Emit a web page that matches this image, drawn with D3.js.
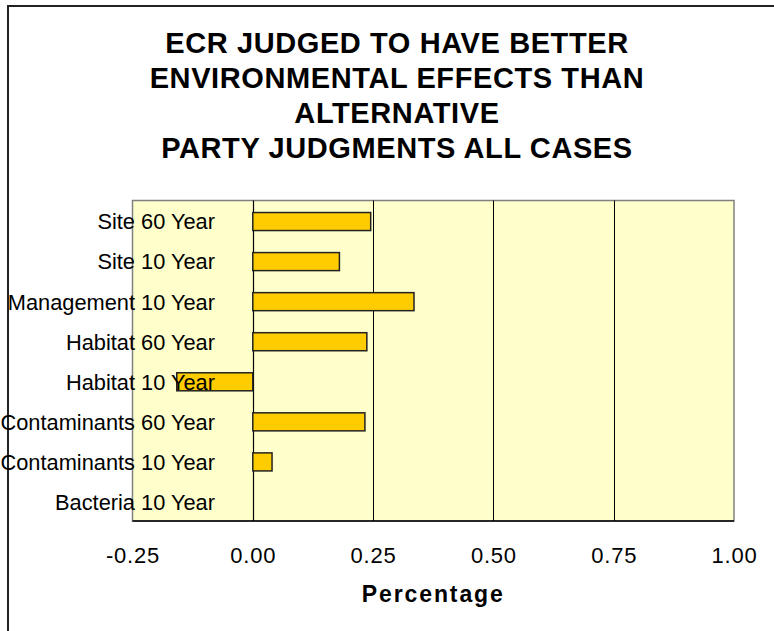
<!DOCTYPE html>
<html><head><meta charset="utf-8">
<script src="https://cdn.jsdelivr.net/npm/d3@7"></script>
<style>body{margin:0;background:#fff;} svg{display:block;font-family:Arial,"Liberation Sans",sans-serif;}</style>
</head><body>
<script>
const titleLines = ["ECR JUDGED TO HAVE BETTER","ENVIRONMENTAL EFFECTS THAN","ALTERNATIVE","PARTY JUDGMENTS ALL CASES"];
const categories = ["Site 60 Year","Site 10 Year","Management 10 Year","Habitat 60 Year","Habitat 10 Year","Contaminants 60 Year","Contaminants 10 Year","Bacteria 10 Year"];
const values = [0.245, 0.18, 0.335, 0.237, -0.158, 0.233, 0.04, 0];
const ticks = [-0.25, 0, 0.25, 0.5, 0.75, 1.0];
const xLabel = "Percentage";

const W = 774, H = 631;
const svg = d3.select("body").append("svg").attr("width", W).attr("height", H);

// outer chart border
svg.append("path").attr("d", `M8,${H+5} L8,6 L${W+5},6`).attr("fill","none").attr("stroke","#222").attr("stroke-width",2);

const plot = {l:132.5, r:734, t:200.5, b:521};
const x = d3.scaleLinear().domain([-0.25, 1.0]).range([plot.l, plot.r]);
const y = d3.scaleBand().domain(categories).range([plot.t, plot.b]).paddingInner(0.55).paddingOuter(0.275);

// plot background
svg.append("rect").attr("x",plot.l).attr("y",plot.t).attr("width",plot.r-plot.l).attr("height",plot.b-plot.t)
  .attr("fill","#FFFFCC").attr("stroke","#808080").attr("stroke-width",1.5);

// gridlines
svg.append("g").selectAll("line").data(ticks.filter(t => t > 0 && t < 1)).join("line")
  .attr("x1", d => Math.round(x(d))+0.5).attr("x2", d => Math.round(x(d))+0.5)
  .attr("y1", plot.t).attr("y2", plot.b).attr("stroke","#000").attr("stroke-width",1);

// category axis line at zero
svg.append("line").attr("x1", Math.round(x(0))+0.5).attr("x2", Math.round(x(0))+0.5)
  .attr("y1", plot.t).attr("y2", plot.b).attr("stroke","#000").attr("stroke-width",1.2);

// bars
svg.append("g").selectAll("rect").data(categories.map((c,i)=>({c, v: values[i]}))).join("rect")
  .filter(d => d.v !== 0)
  .attr("x", d => x(Math.min(0, d.v)))
  .attr("width", d => Math.abs(x(d.v) - x(0)))
  .attr("y", d => y(d.c) + 1)
  .attr("height", y.bandwidth())
  .attr("fill","#FFCC00").attr("stroke","#222").attr("stroke-width",1.5);

// bottom axis line
svg.append("line").attr("x1", plot.l).attr("x2", plot.r).attr("y1", plot.b).attr("y2", plot.b)
  .attr("stroke","#000").attr("stroke-width",1.5);

// x axis tick labels
const fmt = d3.format(".2f");
const xAxis = d3.axisBottom(x).tickValues(ticks).tickFormat(d => fmt(d).replace("\u2212","-")).tickSize(0).tickPadding(0);
const gx = svg.append("g").attr("transform", `translate(0,${plot.b})`).call(xAxis);
gx.select(".domain").remove();
gx.selectAll("text").attr("font-size", 22).attr("fill","#000").attr("letter-spacing", 0.8)
  .attr("dy", null).attr("y", 42).attr("font-family","Arial, 'Liberation Sans', sans-serif");

// category labels
const yAxis = d3.axisLeft(y).tickSize(0).tickPadding(0);
const gy = svg.append("g").attr("transform", `translate(215,1)`).call(yAxis);
gy.select(".domain").remove();
gy.selectAll("text").attr("font-size", 21.8).attr("fill","#000").attr("dy","0.36em")
  .attr("font-family","Arial, 'Liberation Sans', sans-serif");

// x label
svg.append("text").attr("x", (plot.l+plot.r)/2).attr("y", 602).attr("text-anchor","middle")
  .attr("font-size", 23).attr("font-weight","bold").attr("letter-spacing", 1.9).text(xLabel);

// title
const baselines = [53, 87.5, 122.5, 158];
svg.append("g").selectAll("text").data(titleLines).join("text")
  .attr("x", 397).attr("y", (d,i) => baselines[i]).attr("text-anchor","middle")
  .attr("font-size", 29).attr("font-weight","bold").attr("letter-spacing", 0.6).text(d => d);
</script>
</body></html>
